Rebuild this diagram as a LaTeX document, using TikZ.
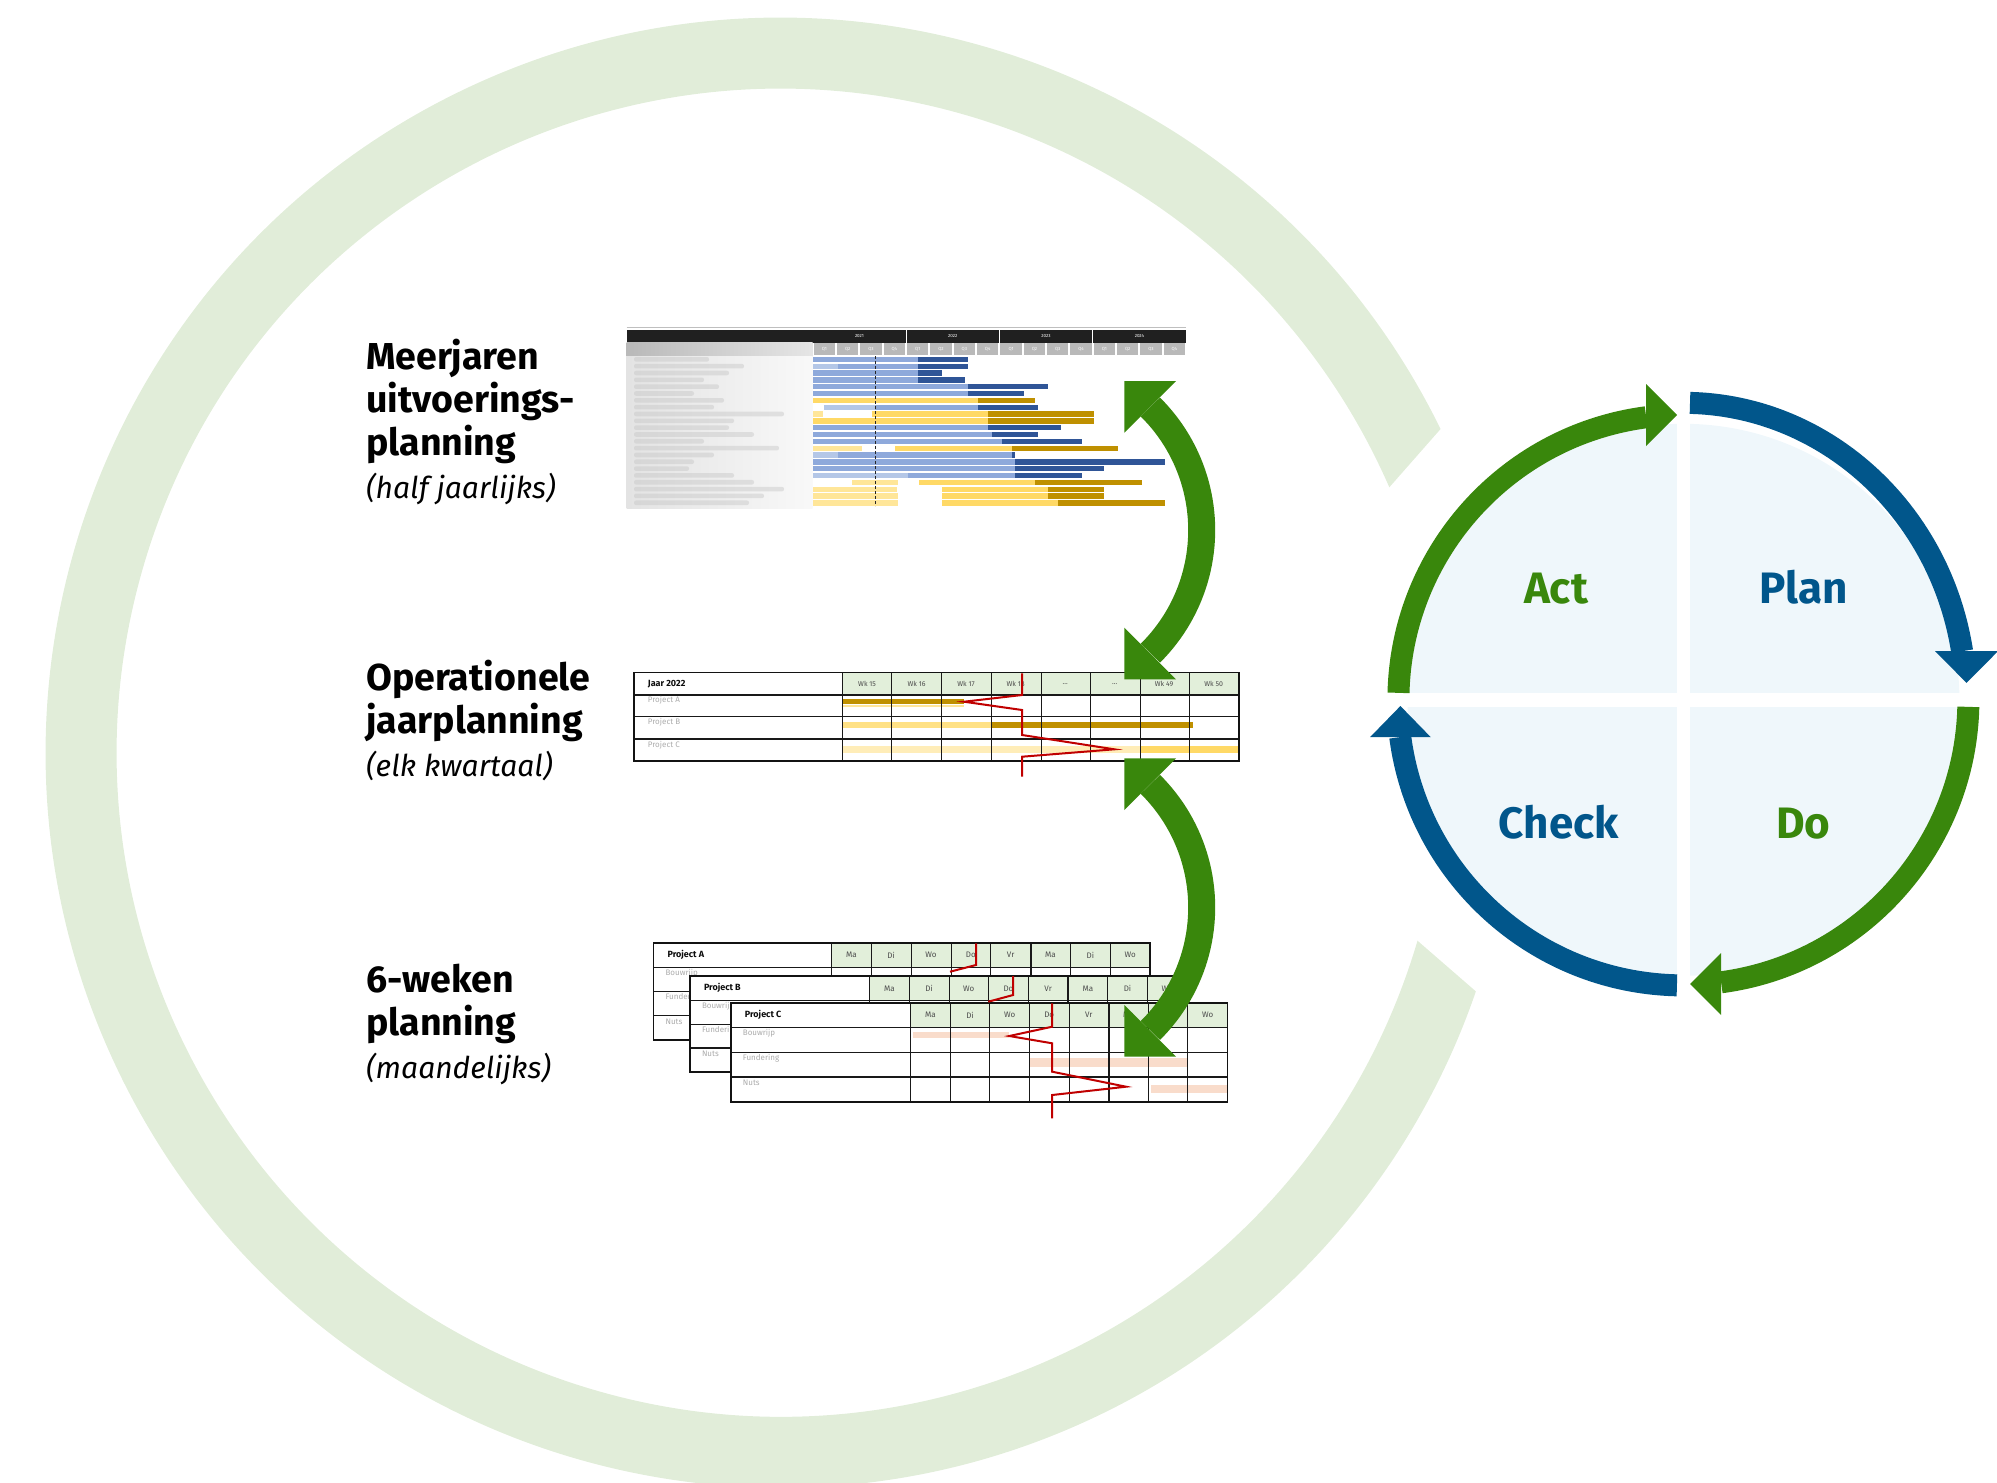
\documentclass[tikz,border=0pt]{standalone}
\usepackage{fontspec}
\setmainfont{Fira Sans}
\usetikzlibrary{positioning}

\definecolor{rogreen}{HTML}{39870C}
\definecolor{roblue}{HTML}{01568B}
\definecolor{ringgreen}{HTML}{E1EDD9}
\definecolor{pdcafill}{HTML}{EFF7FB}
\definecolor{barlblue}{HTML}{8EA9DB}
\definecolor{barxblue}{HTML}{B4C7E7}
\definecolor{bardblue}{HTML}{2F5597}
\definecolor{baryellow}{HTML}{FFD966}
\definecolor{barpale}{HTML}{FFE699}
\definecolor{bargold}{HTML}{BF9000}
\definecolor{cellgreen}{HTML}{E2EFDA}
\definecolor{salmon}{HTML}{F9DCCB}
\definecolor{progred}{HTML}{C00000}

\newcommand\often[1]{{\mdseries\itshape\fontsize{30}{43.3}\selectfont #1}}

\tikzset{
  planlabel/.style={anchor=base west, align=left, inner sep=0pt,
    font=\fontsize{37.5}{43.3}\selectfont\bfseries},
  pdcalabel/.style={anchor=base, inner sep=0pt,
    font=\fontsize{44}{50}\selectfont\bfseries},
  tinywhite/.style={text=white, inner sep=0pt, font=\fontsize{4.5}{5}\selectfont},
  gridline/.style={line width=0.8pt, gray!20!black},
  tableframe/.style={line width=1.6pt, gray!15!black},
  weeklabel/.style={text=gray!60!black, inner sep=0pt, font=\fontsize{7}{8}\selectfont},
  daylabel/.style={text=gray!60!black, inner sep=0pt, font=\fontsize{8}{9}\selectfont},
  rowlabel/.style={text=gray!65, anchor=west, inner sep=0pt, font=\fontsize{8}{9}\selectfont},
  projlabel/.style={text=gray!10!black, anchor=west, inner sep=0pt, font=\fontsize{9}{10}\selectfont\bfseries},
  progress/.style={progred, line width=2pt},
  cyclearc/.style={line width=22pt},
  linkarrow/.style={rogreen, line width=27pt},
}

\begin{document}
\begin{tikzpicture}[x=1pt,y=-1pt]
  \useasboundingbox (0,0) rectangle (1997,1483);
  % big light ring in the background
  \coordinate (ring) at (780.7,752.7);
  \fill[ringgreen] ([shift={(ring)}]-26.13:735) arc[start angle=-26.13, end angle=-341.05, radius=735]
    -- ([shift={(ring)}]-343.55:664) arc[start angle=-343.55, end angle=-23.56, radius=664] -- cycle;

  % Left-hand side labels (base = last line)
  \node[planlabel] (meerjaren) at (366,498.9) {Meerjaren\\uitvoerings-\\planning\\\often{(half jaarlijks)}};
  \node[planlabel] (jaarplan)  at (366,776.6) {Operationele\\jaarplanning\\\often{(elk kwartaal)}};
  \node[planlabel] (zesweken)  at (366,1078.6) {6-weken\\planning\\\often{(maandelijks)}};

  % Meerjaren uitvoeringsplanning (gantt chart)
  \draw[gray!50, line width=0.8pt] (626.7,327.3) -- (1186,327.3);
  \fill[gray!25!black] (626.7,330) rectangle (1186,342.7);
  \shade[left color=gray!55, right color=gray!20] (626.7,342.7) rectangle (812.7,356);
  \shade[left color=gray!22, right color=gray!5] (626.7,356) rectangle (812.7,508);
  \foreach \r/\w in {1/75,2/110,3/95,4/70,5/85,6/60,7/90,8/80,9/150,10/100,11/95,
                     12/120,13/70,14/145,15/80,16/60,17/55,18/100,19/120,20/150,21/130,22/115}
    \fill[gray!45, opacity=0.45, rounded corners=2pt] (634,356+6.83*\r-5.8) rectangle (634+\w,356+6.83*\r-1.2);
  \begin{scope}[shift={(812.7,0)}, x=23.333pt]
    \foreach \yr [count=\k from 0] in {2021,2022,2023,2024}
      \node[tinywhite] (year\k) at (4*\k+2,336.3) {\yr};
    \foreach \k in {4,8,12}
      \draw[white, line width=0.8pt] (\k,330) -- (\k,342.7);
    \foreach \q in {0,...,15}{
      \pgfmathtruncatemacro\qn{mod(\q,4)+1}
      \fill[gray!55] (\q+0.04,343.4) rectangle (\q+0.96,355.3);
      \node[tinywhite] (quarter\q) at (\q+0.5,349.3) {Q\qn};
    }
    % bars: row / from / to / colour (in quarters)
    \foreach \r/\a/\b/\c in {
        1/0/4.53/barlblue, 1/4.53/6.64/bardblue,
        2/0/1.1/barxblue, 2/1.1/4.53/barlblue, 2/4.53/6.64/bardblue,
        3/0/4.53/barlblue, 3/4.53/5.53/bardblue,
        4/0/4.53/barlblue, 4/4.53/6.53/bardblue,
        5/0/6.64/barlblue, 5/6.64/10.07/bardblue,
        6/0/6.64/barlblue, 6/6.64/9.07/bardblue,
        7/0/7.1/baryellow, 7/7.1/9.53/bargold,
        8/0.49/2.67/barxblue, 8/2.67/7.1/barlblue, 8/7.1/9.64/bardblue,
        9/0/0.46/barpale, 9/2.55/7.53/baryellow, 9/7.53/12.07/bargold,
        10/0/7.53/baryellow, 10/7.53/12.07/bargold,
        11/0/7.53/barlblue, 11/7.53/10.64/bardblue,
        12/0/7.67/barlblue, 12/7.67/9.64/bardblue,
        13/0/8.1/barlblue, 13/8.1/11.56/bardblue,
        14/0/2.1/barpale, 14/3.53/8.56/baryellow, 14/8.56/13.1/bargold,
        15/0/1.1/barxblue, 15/1.1/8.56/barlblue, 15/8.56/8.67/bardblue,
        16/0/8.67/barlblue, 16/8.67/15.08/bardblue,
        17/0/8.67/barlblue, 17/8.67/12.5/bardblue,
        18/0/4.1/barxblue, 18/4.1/8.67/barlblue, 18/8.67/11.56/bardblue,
        19/1.67/3.64/barpale, 19/4.56/9.53/baryellow, 19/9.53/14.1/bargold,
        20/0/3.6/barpale, 20/5.56/10.1/baryellow, 20/10.1/12.5/bargold,
        21/0/3.64/barpale, 21/5.56/10.1/baryellow, 21/10.1/12.5/bargold,
        22/0/3.64/barpale, 22/5.56/10.53/baryellow, 22/10.53/15.08/bargold}
      \fill[\c] (\a,356+6.83*\r-6.08) rectangle (\b,356+6.83*\r-0.75);
    \draw[gray!30!black, densely dashed, line width=0.6pt] (2.67,356) -- (2.67,506);
  \end{scope}

  % Operationele jaarplanning (table)
  \fill[cellgreen] (842.6,672.3) rectangle (1238.8,695);
  \fill[bargold]  (843.4,699.3) rectangle (964,704);
  \fill[barpale]  (843.4,705) rectangle (964,707.3);
  \fill[baryellow!80] (843.4,721.7) rectangle (991.7,728.3);
  \fill[bargold]  (991.7,722.3) rectangle (1192.6,727.7);
  \fill[barpale!70] (843.4,746) rectangle (1140,753.3);
  \fill[baryellow] (1140,746) rectangle (1238.8,753.3);
  \foreach \x in {842.6,891.6,941.5,991.7,1041.1,1090.5,1140,1189.4}
    \draw[gridline] (\x,672.3) -- (\x,760.7);
  \foreach \y in {695,716.7,739}
    \draw[gridline, line width=1.2pt] (633.8,\y) -- (1238.8,\y);
  \draw[tableframe] (633.8,672.3) rectangle (1238.8,760.7);
  \node[projlabel] (jaar) at (647.7,684) {Jaar 2022};
  \foreach \p/\y in {A/700,B/722.3,C/745}
    \node[rowlabel] (proj\p) at (647.7,\y) {Project \p};
  \foreach \wk [count=\i from 0] in {Wk 15,Wk 16,Wk 17,Wk 18,\dots,\dots,Wk 49,Wk 50}
    \node[weeklabel] (week\i) at (867.1+49.5*\i,683.6) {\wk};
  \draw[progress] (1022.1,673.3) -- (1022.1,695) -- (964,701.7) -- (1022.1,710) -- (1022.1,735)
    -- (1114.3,749.3) -- (1022.1,756.7) -- (1022.1,776.7);

  % 6-weken planning (three stacked tables)
  \foreach \t/\xl/\yt/\xd/\xr/\yb [count=\i] in {A/653.4/942.7/831.4/1150.1/1040,
      B/689.8/976/869.6/1187/1071.7, C/730.7/1002.7/910.6/1227.4/1101.7}{
    \pgfmathsetmacro\cw{(\xr-\xd)/8}
    \pgfmathsetmacro\rh{(\yb-\yt-24.6)/3}
    \fill[white] (\xl,\yt) rectangle (\xr,\yb);
    \fill[cellgreen] (\xd,\yt) rectangle (\xr,\yt+24.6);
    \ifnum\i=3
      \fill[salmon] (912.5,1031.7) rectangle (1009.3,1038.3);
      \fill[salmon] (1030.4,1058.3) rectangle (1187.3,1066.7);
      \fill[salmon] (1150.9,1085) rectangle (1227.4,1093.3);
    \fi
    \foreach \k in {0,...,7}
      \draw[gridline] (\xd+\k*\cw,\yt) -- (\xd+\k*\cw,\yb);
    \draw[gridline, line width=1.8pt] (\xd+5*\cw,\yt) -- (\xd+5*\cw,\yb);
    \foreach \k in {0,1,2}
      \draw[gridline, line width=1.2pt] (\xl,\yt+24.6+\k*\rh) -- (\xr,\yt+24.6+\k*\rh);
    \draw[tableframe] (\xl,\yt) rectangle (\xr,\yb);
    \node[projlabel] (week\t) at (\xl+14,\yt+12.3) {Project \t};
    \foreach \d [count=\k from 0] in {Ma,Di,Wo,Do,Vr,Ma,Di,Wo}
      \node[daylabel] (day\t\k) at (\xd+\k*\cw+0.5*\cw,\yt+12.3) {\d};
    \foreach \w [count=\k from 0] in {Bouwrijp,Fundering,Nuts}
      \node[rowlabel] (task\t\k) at (\xl+12,\yt+24.6+\k*\rh+6) {\w};
  }
  \draw[progress] (976,943.3) -- (976,965) -- (950,971.7);
  \draw[progress] (1013.1,976) -- (1013.1,995) -- (988.3,1001.7);
  \draw[progress] (1052.2,1003.3) -- (1052.2,1026.7) -- (1009.3,1036) -- (1052.2,1043.3) -- (1052.2,1071.7)
    -- (1126,1086.7) -- (1052.2,1095) -- (1052.2,1118.3);

  % green double arrows between the plannings
  \foreach \dy [count=\i] in {0,377.3}{
    \coordinate (link\i) at (1028.5,530.1+\dy);
    \draw[linkarrow] ([shift={(link\i)}]-45.3:173.2) arc[start angle=-45.3, end angle=45.3, radius=173.2];
    \fill[rogreen] (1124.3,381+\dy) -- (1176,381+\dy) -- (1124.3,432.7+\dy) -- cycle;
    \fill[rogreen] (1124.3,679.3+\dy) -- (1176,679.3+\dy) -- (1124.3,627.6+\dy) -- cycle;
  }

  % PDCA circle
  \coordinate (pdca) at (1683.4,699.8);
  \fill[pdcafill] (pdca) circle[radius=276];
  \fill[white] (1676.8,410) rectangle (1690,990);
  \fill[white] (1400,692.8) rectangle (1968,706.8);
  \draw[cyclearc, rogreen] ([shift={(pdca)}]-178.6:285) arc[start angle=-178.6, end angle=-97.5, radius=285];
  \fill[rogreen] (1646.2,384) -- (1677,415) -- (1646.2,446) -- cycle;
  \draw[cyclearc, roblue] ([shift={(pdca)}]-88.66:282.5 and 297) arc[start angle=-88.66, end angle=-9.42, x radius=282.5, y radius=297];
  \fill[roblue] (1935,651.2) -- (1966.5,682.8) -- (1998,651.2) -- cycle;
  \draw[cyclearc, rogreen] ([shift={(pdca)}]1.42:285) arc[start angle=1.42, end angle=82.4, radius=285];
  \fill[rogreen] (1721.2,953) -- (1690,984) -- (1721.2,1015) -- cycle;
  \draw[cyclearc, roblue] ([shift={(pdca)}]-268.7:285.6) arc[start angle=-268.7, end angle=-187.5, radius=285.6];
  \fill[roblue] (1370,737.2) -- (1400.4,706) -- (1430.8,737.2) -- cycle;
  \node[pdcalabel, text=rogreen] (act)   at (1556,603)  {Act};
  \node[pdcalabel, text=roblue]  (plan)  at (1803.6,603) {Plan};
  \node[pdcalabel, text=roblue]  (check) at (1558.8,838) {Check};
  \node[pdcalabel, text=rogreen] (do)    at (1803.4,838) {Do};
\end{tikzpicture}
\end{document}
